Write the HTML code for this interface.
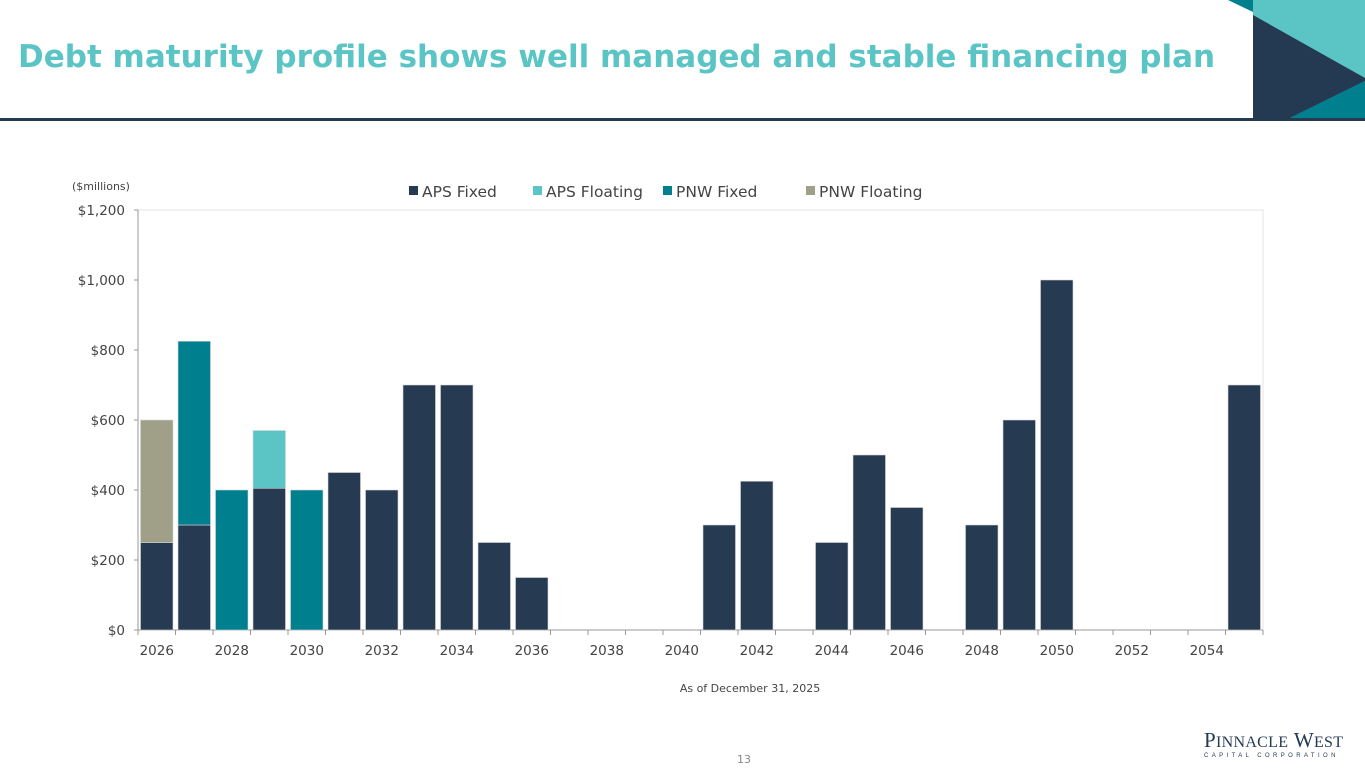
<!DOCTYPE html>
<html><head><meta charset="utf-8">
<style>
body{margin:0;width:1365px;height:768px;overflow:hidden;background:#fff;font-family:"DejaVu Sans","Liberation Sans",sans-serif;position:relative}
.title{position:absolute;left:18px;top:39px;font-size:31px;font-weight:bold;color:#5bc4c4;white-space:nowrap}
</style></head><body>
<div class="title">Debt maturity profile shows well managed and stable financing plan</div>
<svg style="position:absolute;left:0;top:0" width="1365" height="125">
<rect x="0" y="118" width="1365" height="3" fill="#243a52"/>
<rect x="1253" y="0" width="112" height="118" fill="#5bc4c4"/>
<polygon points="1228,0 1253,0 1253,12" fill="#00808f"/>
<polygon points="1253,15 1365,78 1365,81 1290,118 1253,118" fill="#243a52"/>
<polygon points="1290,118 1365,118 1365,81" fill="#00808f"/>
</svg>
<svg id="chart" style="position:absolute;left:0;top:0" width="1365" height="768"></svg>
<div style="position:absolute;left:1204px;top:728px;font-family:'Liberation Serif',serif;color:#243a52;white-space:nowrap">
<div style="font-size:21px;letter-spacing:0.3px">P<span style="font-size:16px">INNACLE</span>&nbsp;W<span style="font-size:16px">EST</span></div>
<div style="font-size:6px;letter-spacing:3.4px;font-family:'Liberation Sans',sans-serif;margin-top:0px">CAPITAL CORPORATION</div>
</div>
<div style="position:absolute;left:737px;top:753px;font-size:11px;color:#888">13</div>
<script>
const years=[];for(let y=2026;y<=2055;y++)years.push(y);
const apsFixed=[250,300,0,405,0,450,400,700,700,250,150,0,0,0,0,300,425,0,250,500,350,0,300,600,1000,0,0,0,0,700];
const apsFloating=[0,0,0,165,0,0,0,0,0,0,0,0,0,0,0,0,0,0,0,0,0,0,0,0,0,0,0,0,0,0];
const pnwFixed=[0,525,400,0,400,0,0,0,0,0,0,0,0,0,0,0,0,0,0,0,0,0,0,0,0,0,0,0,0,0];
const pnwFloating=[350,0,0,0,0,0,0,0,0,0,0,0,0,0,0,0,0,0,0,0,0,0,0,0,0,0,0,0,0,0];
const yTicks=[0,200,400,600,800,1000,1200];
const seriesNames=["APS Fixed","APS Floating","PNW Fixed","PNW Floating"];
const colors=["#263a52","#5bc4c4","#00808f","#a09f88"];
const series=[apsFixed,apsFloating,pnwFixed,pnwFloating];
const svg=document.getElementById('chart');const NS='http://www.w3.org/2000/svg';
const L=138,R=1263,T=210,B=630,maxV=1200;
const bw=(R-L)/years.length;
const yS=v=>B-(v/maxV)*(B-T);const xS=i=>L+i*bw;
function mk(t,a,txt){const e=document.createElementNS(NS,t);for(const k in a)e.setAttribute(k,a[k]);if(txt!==undefined)e.textContent=txt;svg.appendChild(e);return e;}
let e=mk('rect',{x:L,y:T,width:R-L,height:B-T,fill:'none',stroke:'#e4e4e4'});

mk('line',{x1:L,y1:T,x2:L,y2:B,stroke:'#999'});
mk('line',{x1:L,y1:B,x2:R,y2:B,stroke:'#999'});
yTicks.forEach(v=>{mk('line',{x1:L-4,y1:yS(v),x2:L,y2:yS(v),stroke:'#999'});
e=mk('text',{x:L-13,y:yS(v)+5,'text-anchor':'end','font-size':13.5,fill:'#444'},'$'+v.toLocaleString('en-US'));
});
for(let i=0;i<=years.length;i++)mk('line',{x1:xS(i),y1:B,x2:xS(i),y2:B+5,stroke:'#999'});
years.forEach((y,i)=>{if(i%2===0){e=mk('text',{x:xS(i)+bw/2,y:B+25,'text-anchor':'middle','font-size':13.5,fill:'#444'},String(y));
}});
years.forEach((y,i)=>{let base=0;series.forEach((s,k)=>{const v=s[i];if(v>0){
e=mk('rect',{x:xS(i)+2.5,y:yS(base+v),width:bw-5,height:yS(base)-yS(base+v),fill:colors[k],stroke:'#d8d8d8','stroke-width':0.6});
base+=v;}});});
const lx=[409,533,663,806];
seriesNames.forEach((n,k)=>{mk('rect',{x:lx[k],y:186,width:9,height:9,fill:colors[k]});
e=mk('text',{x:lx[k]+13,y:197,'font-size':15.5,fill:'#444'},n);
});
e=mk('text',{x:72,y:190,'font-size':11,fill:'#444'},'($millions)');

e=mk('text',{x:750,y:692,'text-anchor':'middle','font-size':11,fill:'#444'},'As of December 31, 2025');

</script>
</body></html>
